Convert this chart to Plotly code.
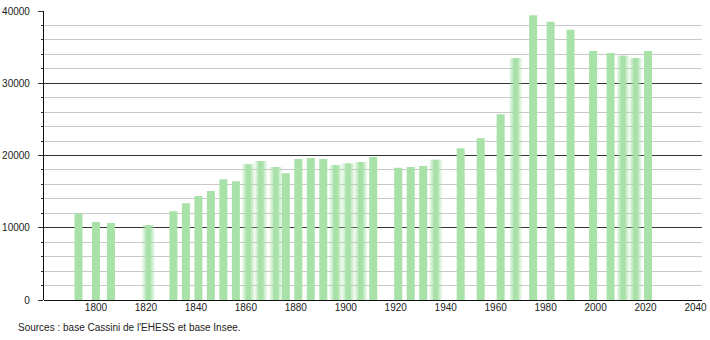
import plotly.graph_objects as go

years = [1793, 1800, 1806, 1821, 1831, 1836, 1841, 1846, 1851, 1856, 1861, 1866,
         1872, 1876, 1881, 1886, 1891, 1896, 1901, 1906, 1911, 1921, 1926, 1931,
         1936, 1946, 1954, 1962, 1968, 1975, 1982, 1990, 1999, 2006, 2011, 2016, 2021]
population = [12000, 10800, 10650, 10380, 12300, 13400, 14400, 15100, 16700, 16450,
              18800, 19250, 18400, 17550, 19500, 19650, 19500, 18700, 18900, 19100,
              19800, 18300, 18400, 18550, 19400, 21000, 22400, 25700, 33500, 39400,
              38500, 37400, 34450, 34200, 33800, 33500, 34450]
blurred_years = [1821, 1861, 1866, 1872, 1896, 1901, 1906, 1936, 1968, 2011, 2016]

x_ticks = list(range(1800, 2041, 20))
y_major = [0, 10000, 20000, 30000, 40000]
y_labels = ["0", "10000", "20000", "30000", "40000"]
source_text = "Sources : base Cassini de l'EHESS et base Insee."

GREEN = "rgb(168,226,168)"

sharp_x = [y for y in years if y not in blurred_years]
sharp_v = [p for y, p in zip(years, population) if y not in blurred_years]
blur_x = [y for y in years if y in blurred_years]
blur_v = [p for y, p in zip(years, population) if y in blurred_years]

fig = go.Figure()
fig.add_trace(go.Bar(x=sharp_x, y=sharp_v, width=3.2, marker_color=GREEN,
                     marker_line_width=0, hoverinfo="x+y"))
# blurred bars: a solid core plus soft wider halos
for w, op in [(5.2, 0.15), (4.4, 0.22), (3.6, 0.32)]:
    fig.add_trace(go.Bar(x=blur_x, y=blur_v, width=w, marker_color=GREEN,
                         marker_line_width=0, opacity=op, hoverinfo="skip"))
fig.add_trace(go.Bar(x=blur_x, y=blur_v, width=2.2, marker_color=GREEN,
                     marker_line_width=0, hoverinfo="x+y"))

fig.update_layout(
    width=710, height=340,
    margin=dict(l=44, r=8, t=11, b=40),
    barmode="overlay",
    showlegend=False,
    plot_bgcolor="white", paper_bgcolor="white",
    font=dict(family="Liberation Sans, Arial, sans-serif", size=10, color="#222"),
    xaxis=dict(range=[1779.2, 2042.6], tickmode="array", tickvals=x_ticks,
               showgrid=False, zeroline=False, showline=False, ticks="",
               tickfont=dict(size=10), automargin=False),
    yaxis=dict(range=[0, 40000], tickmode="array", tickvals=y_major, ticktext=y_labels,
               showgrid=True, gridcolor="#333", gridwidth=1,
               zeroline=True, zerolinecolor="#111", zerolinewidth=1.2,
               showline=True, linecolor="#111", linewidth=1.2,
               ticks="outside", ticklen=5, tickcolor="#333", ticklabelstandoff=6,
               minor=dict(dtick=2000, tick0=0, showgrid=True, gridcolor="#c8c8c8",
                          gridwidth=1, ticks="outside", ticklen=2, tickcolor="#333"),
               tickfont=dict(size=10), automargin=False),
    annotations=[dict(text=source_text, xref="paper", yref="paper",
                      x=(16 - 44) / 658, y=-0.095, xanchor="left", yanchor="middle",
                      showarrow=False, font=dict(size=10, color="#222"))],
)

fig.write_html("out.html")
